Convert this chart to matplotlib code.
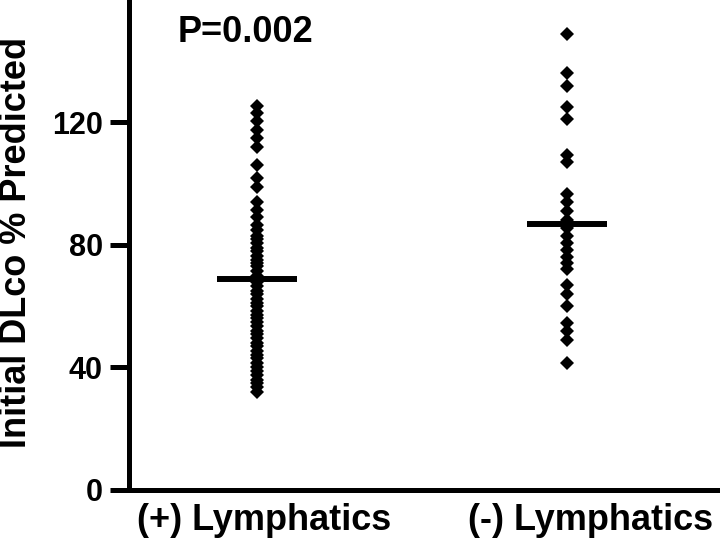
import matplotlib
matplotlib.use('Agg')
import matplotlib.pyplot as plt
import matplotlib.transforms as mtransforms

plt.rcParams['font.family'] = ['Liberation Sans', 'DejaVu Sans']
plt.rcParams['font.weight'] = 'bold'

groups = ['(+) Lymphatics', '(-) Lymphatics']
pos_values = [125.5, 123, 120.5, 117.5, 115, 112, 106, 102, 99, 94, 91.5, 89, 86.5, 85,
              83, 82, 80.5, 79, 78, 76.5, 75, 74, 73, 71.5, 70, 69, 68, 66.5, 65, 64,
              62.5, 61, 60, 58.5, 57, 56, 55, 53.5, 52, 51, 49.5, 48, 47, 45.5, 44, 43,
              41.5, 40, 39, 37.5, 36, 35, 33.5, 32]
neg_values = [149, 136, 132, 125, 121, 109.5, 107, 96.5, 94, 91, 88, 85.5, 83, 80.5,
              78.5, 76, 74, 72, 67, 64, 60, 54.5, 52, 49, 41.5]
means = [69, 87]
p_text = 'P=0.002'

fig = plt.figure(figsize=(7.2, 5.45), dpi=100)
ax = fig.add_axes([0.179, 0.101, 0.821, 0.899])

for i, vals in enumerate([pos_values, neg_values]):
    ax.plot([i + 1] * len(vals), vals, 'D', color='black', ms=7.5, mew=0)
    ax.plot([i + 1 - 0.13, i + 1 + 0.13], [means[i], means[i]], color='black',
            lw=4.3, solid_capstyle='butt')

ax.set_xlim(0.587, 2.493)
ax.set_ylim(0, 160)
ax.set_yticks([0, 40, 80, 120])
ax.set_xticks([])
ax.tick_params(axis='y', length=13.7, width=3.6, pad=5, labelsize=22)
for lab in ax.get_yticklabels():
    lab.set_fontweight('bold')

# group labels sit a little right of their columns in the original
label_shift = [7, 23]
for i, name in enumerate(groups):
    tr = ax.get_xaxis_transform() + mtransforms.ScaledTranslation(
        label_shift[i] / 100, -31 / 100, fig.dpi_scale_trans)
    ax.text(i + 1, 0, name, transform=tr, ha='center', va='center',
            fontsize=26, fontweight='bold')

ax.spines['top'].set_visible(False)
ax.spines['right'].set_visible(False)
ax.spines['left'].set_linewidth(3.6)
ax.spines['bottom'].set_linewidth(3.6)

fig.text(17 / 720, 1 - 242 / 545, 'Initial DLco % Predicted', rotation=90,
         ha='center', va='center', fontsize=26, fontweight='bold')
fig.text(246 / 720, 1 - 32 / 545, p_text, ha='center', va='center',
         fontsize=26, fontweight='bold')

fig.savefig('out.png', dpi=100)
